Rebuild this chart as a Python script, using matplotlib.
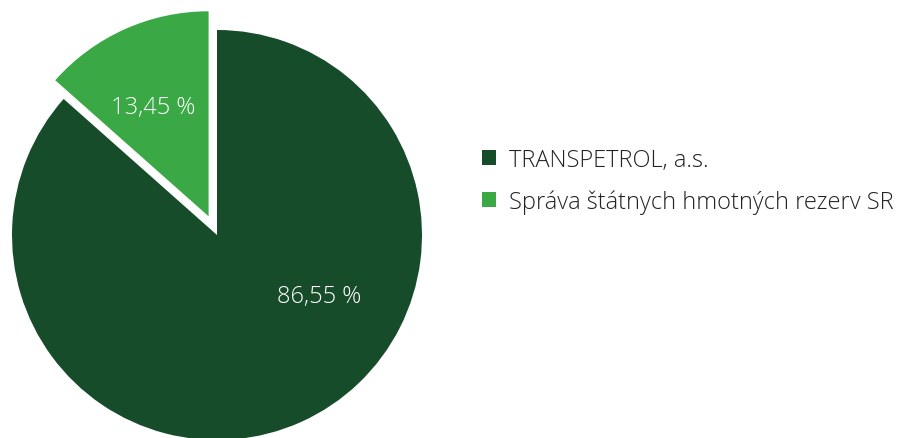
import matplotlib
matplotlib.use('Agg')
import matplotlib.pyplot as plt

# data
owners = ['TRANSPETROL, a.s.', 'Správa štátnych hmotných rezerv SR']
shares = [86.55, 13.45]
share_labels = ['86,55 %', '13,45 %']
colors = ['#174c2b', '#39a845']

plt.rcParams['font.family'] = ['Open Sans', 'DejaVu Sans']

W, H = 900, 439
fig = plt.figure(figsize=(W / 100, H / 100), dpi=100)
ax = fig.add_axes([0, 0, 1, 1])

# pie: 12 o'clock start, clockwise; small slice pulled out
wedges, _ = ax.pie(shares, colors=colors, startangle=90, counterclock=False,
                   explode=[0, 0.1], wedgeprops=dict(linewidth=0))

# map 1 unit = 205 px, centre at (217, 236) px from top-left
r_px, cx, cy = 205.0, 217.0, 236.0
ax.set_xlim(-cx / r_px, (W - cx) / r_px)
ax.set_ylim(-(H - cy) / r_px, cy / r_px)
ax.set_aspect('equal')
ax.axis('off')

# percentage labels
ax.text(0.50, -0.30, share_labels[0], color='white', fontsize=17,
        fontweight='light', ha='center', va='center')
ax.text(-0.31, 0.625, share_labels[1], color='white', fontsize=17,
        fontweight='light', ha='center', va='center')

fig.legend(wedges, owners, loc='center left', bbox_to_anchor=(0.535, 0.585),
           frameon=False, fontsize=17, handlelength=0.6, handleheight=0.6,
           handletextpad=0.55, labelspacing=0.75, borderpad=0, borderaxespad=0,
           prop=dict(size=17, weight='light'), labelcolor='#222222')

fig.savefig('out.png', dpi=100)
